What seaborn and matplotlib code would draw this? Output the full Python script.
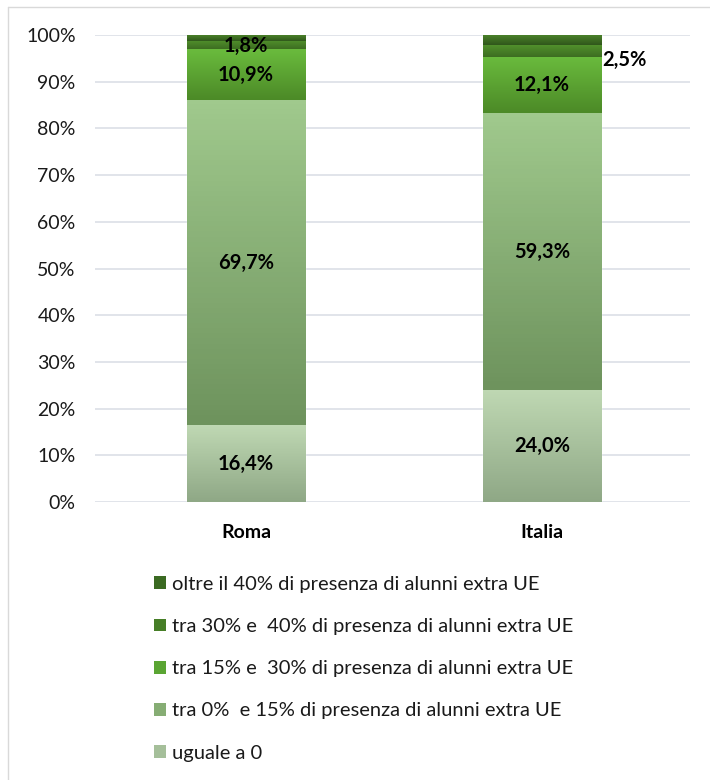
import numpy as np
import pandas as pd
import matplotlib
matplotlib.use("Agg")
import matplotlib.pyplot as plt
import matplotlib.colors as mcolors
from matplotlib.lines import Line2D
from matplotlib.patches import Patch
import seaborn as sns

# data
luoghi = ["Roma", "Italia"]
uguale_0 = [16.4, 24.0]
tra_0_15 = [69.7, 59.3]
tra_15_30 = [10.9, 12.1]
tra_30_40 = [1.8, 2.5]
oltre_40 = [1.2, 2.1]

serie = ["uguale a 0",
         "tra 0%  e 15% di presenza di alunni extra UE",
         "tra 15% e  30% di presenza di alunni extra UE",
         "tra 30% e  40% di presenza di alunni extra UE",
         "oltre il 40% di presenza di alunni extra UE"]
valori = [uguale_0, tra_0_15, tra_15_30, tra_30_40, oltre_40]
# (top colour, bottom colour) for the gradient of each segment
colori = [("#bfd8b3", "#8fa886"),
          ("#a0c98d", "#6e935d"),
          ("#6abb3d", "#4c8a27"),
          ("#51902c", "#3d6d21"),
          ("#4a8029", "#30571b")]
# legend squares (mid tones)
colori_leg = ["#a5bf9a", "#86ad74", "#5aa533", "#467e27", "#3b6a22"]
# which labels are shown (the small top one is hidden in the original)
mostra = [[True, True], [True, True], [True, True], [True, True], [False, False]]

sns.set_theme(style="white")
plt.rcParams["font.family"] = ["Lato", "DejaVu Sans"]

fig = plt.figure(figsize=(7.1, 7.8), dpi=100)
ax = fig.add_axes([0.134, 0.3564, 0.838, 0.5987])

df = pd.DataFrame({"luogo": luoghi})
base = np.zeros(len(luoghi))
strati = []
for nome, val, (c_top, c_bot) in zip(serie, valori, colori):
    df["v"] = val
    n0 = len(ax.patches)
    sns.barplot(data=df, x="luogo", y="v", bottom=base, width=0.4,
                color=c_top, saturation=1, ax=ax, zorder=2)
    strati.append(ax.patches[n0:])
    base = base + np.array(val)

# vertical gradient inside each bar segment
for patches, (c_top, c_bot) in zip(strati, colori):
    cmap = mcolors.LinearSegmentedColormap.from_list("g", [c_bot, c_top])
    for p in patches:
        x0, y0 = p.get_x(), p.get_y()
        w, h = p.get_width(), p.get_height()
        grad = np.linspace(0, 1, 64).reshape(-1, 1)
        im = ax.imshow(grad, cmap=cmap, origin="lower", aspect="auto",
                       extent=(x0, x0 + w, y0, y0 + h), zorder=2.5)
        im.set_clip_path(p)

# labels
fs_lab = 14.5
for i, (patches, val) in enumerate(zip(strati, valori)):
    for j, p in enumerate(patches):
        if not mostra[i][j]:
            continue
        testo = f"{val[j]:.1f}%".replace(".", ",")
        cx = p.get_x() + p.get_width() / 2
        cy = p.get_y() + p.get_height() / 2
        if i == 3 and j == 1:
            ax.annotate(testo, (p.get_x() + p.get_width(), cy),
                        xytext=(17, -7), textcoords="offset points",
                        ha="center", va="center", fontsize=fs_lab,
                        fontweight="bold", color="black", zorder=5)
        elif i == 3:
            ax.annotate(testo, (cx, cy), xytext=(0, -1),
                        textcoords="offset points", ha="center",
                        va="center", fontsize=fs_lab, fontweight="bold",
                        color="black", zorder=5)
        else:
            ax.text(cx, cy, testo, ha="center", va="center", fontsize=fs_lab,
                    fontweight="bold", color="black", zorder=5)

ax.set_xlim(-0.51, 1.5)
ax.set_ylim(0, 100)
ax.set_yticks(np.arange(0, 101, 10))
ax.set_yticklabels([f"{t}%" for t in range(0, 101, 10)], fontsize=14,
                   color="#1a1a1a")
ax.set_xticks(range(len(luoghi)))
ax.set_xticklabels(luoghi, fontsize=14, fontweight="bold", color="black")
ax.tick_params(axis="y", pad=14, length=0)
ax.tick_params(axis="x", pad=16, length=0)
ax.set_xlabel("")
ax.set_ylabel("")
ax.yaxis.grid(True, color="#dcdfe6", linewidth=1.2, zorder=0)
ax.set_axisbelow(True)
for s in ax.spines.values():
    s.set_visible(False)

# legend (reversed order, below the chart)
handles = [Patch(facecolor=c, edgecolor="none") for c in colori_leg]
fig.legend(handles[::-1], serie[::-1], loc="upper left",
           bbox_to_anchor=(0.205, 0.272), frameon=False, fontsize=14.5,
           handlelength=0.6, handleheight=0.6, handletextpad=0.3,
           labelspacing=1.25, borderaxespad=0, labelcolor="#1a1a1a")

# outer border (top and left edges visible)
fig.add_artist(Line2D([0.011, 1.0], [0.991, 0.991], color="#d9d9d9",
                      linewidth=1, transform=fig.transFigure))
fig.add_artist(Line2D([0.011, 0.011], [0.0, 0.991], color="#d9d9d9",
                      linewidth=1, transform=fig.transFigure))

fig.savefig("out.png", dpi=100, facecolor="white")
